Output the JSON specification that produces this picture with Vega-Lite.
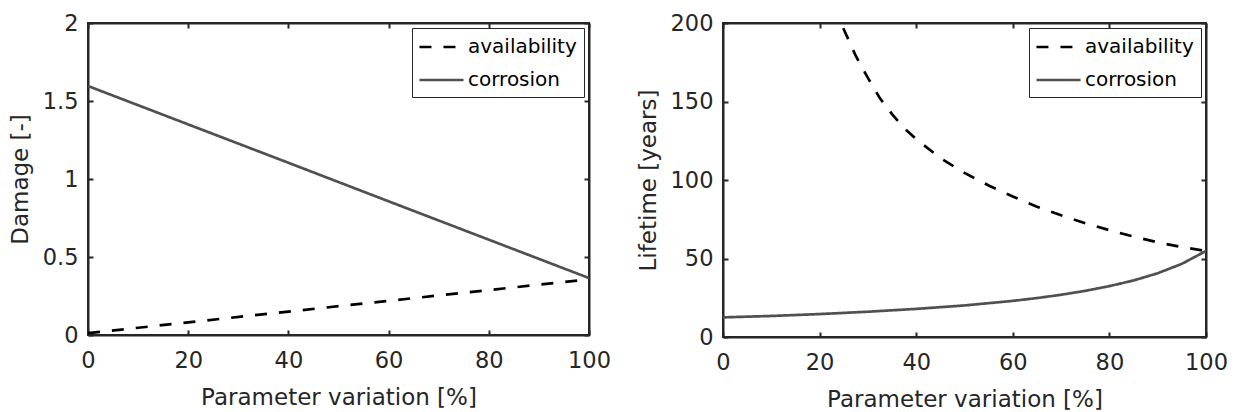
{
  "$schema": "https://vega.github.io/schema/vega-lite/v6.json",
  "background": "white",
  "padding": {"left": 8, "top": 11, "right": 5, "bottom": 5},
  "spacing": 24,
  "datasets": {
    "damage": [
      {"x": 0, "value": 0.012, "series": "availability"},
      {"x": 20, "value": 0.081, "series": "availability"},
      {"x": 40, "value": 0.150, "series": "availability"},
      {"x": 60, "value": 0.219, "series": "availability"},
      {"x": 80, "value": 0.288, "series": "availability"},
      {"x": 100, "value": 0.357, "series": "availability"},
      {"x": 0, "value": 1.596, "series": "corrosion"},
      {"x": 20, "value": 1.350, "series": "corrosion"},
      {"x": 40, "value": 1.104, "series": "corrosion"},
      {"x": 60, "value": 0.857, "series": "corrosion"},
      {"x": 80, "value": 0.611, "series": "corrosion"},
      {"x": 100, "value": 0.365, "series": "corrosion"}
    ],
    "lifetime": [
      {"x": 20, "value": 240, "series": "availability"},
      {"x": 22.5, "value": 218, "series": "availability"},
      {"x": 25, "value": 196, "series": "availability"},
      {"x": 27.5, "value": 179, "series": "availability"},
      {"x": 30, "value": 165, "series": "availability"},
      {"x": 32.5, "value": 152, "series": "availability"},
      {"x": 35, "value": 142, "series": "availability"},
      {"x": 37.5, "value": 133, "series": "availability"},
      {"x": 40, "value": 126, "series": "availability"},
      {"x": 45, "value": 114, "series": "availability"},
      {"x": 50, "value": 104.5, "series": "availability"},
      {"x": 55, "value": 96.5, "series": "availability"},
      {"x": 60, "value": 89.5, "series": "availability"},
      {"x": 65, "value": 83, "series": "availability"},
      {"x": 70, "value": 77.5, "series": "availability"},
      {"x": 75, "value": 72.5, "series": "availability"},
      {"x": 80, "value": 68, "series": "availability"},
      {"x": 85, "value": 64, "series": "availability"},
      {"x": 90, "value": 60.3, "series": "availability"},
      {"x": 95, "value": 57.3, "series": "availability"},
      {"x": 100, "value": 54.8, "series": "availability"},
      {"x": 0, "value": 12.5, "series": "corrosion"},
      {"x": 10, "value": 13.4, "series": "corrosion"},
      {"x": 20, "value": 14.6, "series": "corrosion"},
      {"x": 30, "value": 16.1, "series": "corrosion"},
      {"x": 40, "value": 17.9, "series": "corrosion"},
      {"x": 50, "value": 20.1, "series": "corrosion"},
      {"x": 60, "value": 23.0, "series": "corrosion"},
      {"x": 65, "value": 24.8, "series": "corrosion"},
      {"x": 70, "value": 26.9, "series": "corrosion"},
      {"x": 75, "value": 29.4, "series": "corrosion"},
      {"x": 80, "value": 32.4, "series": "corrosion"},
      {"x": 85, "value": 36.0, "series": "corrosion"},
      {"x": 90, "value": 40.6, "series": "corrosion"},
      {"x": 95, "value": 46.6, "series": "corrosion"},
      {"x": 100, "value": 54.8, "series": "corrosion"}
    ]
  },
  "hconcat": [
    {
      "width": 501,
      "height": 312,
      "data": {"name": "damage"},
      "layer": [
        {
          "mark": {"type": "line", "strokeWidth": 2.7, "clip": true},
          "encoding": {
            "x": {"field": "x", "type": "quantitative", "scale": {"domain": [0, 100], "nice": false},
                  "axis": {"values": [0, 20, 40, 60, 80, 100], "title": "Parameter variation [%]", "labelPadding": 19, "titlePadding": 15}},
            "y": {"field": "value", "type": "quantitative", "scale": {"domain": [0, 2], "nice": false},
                  "axis": {"values": [0, 0.5, 1, 1.5, 2], "format": "~g", "title": "Damage [-]", "labelPadding": 15, "titlePadding": 10}},
            "color": {"field": "series", "type": "nominal",
                      "scale": {"domain": ["availability", "corrosion"], "range": ["#000000", "#505050"]},
                      "legend": {"title": null}},
            "strokeDash": {"field": "series", "type": "nominal",
                           "scale": {"domain": ["availability", "corrosion"], "range": [[12, 12], [1, 0]]},
                           "legend": {"title": null}}
          }
        },
        {
          "mark": {"type": "point", "opacity": 0, "clip": true},
          "encoding": {
            "x": {"field": "x", "type": "quantitative", "scale": {"domain": [0, 100], "nice": false},
                  "axis": {"orient": "top", "values": [0, 20, 40, 60, 80, 100], "labels": false, "title": null, "minExtent": 0, "maxExtent": 0}},
            "y": {"field": "value", "type": "quantitative", "scale": {"domain": [0, 2], "nice": false},
                  "axis": {"orient": "right", "values": [0, 0.5, 1, 1.5, 2], "labels": false, "title": null, "minExtent": 0, "maxExtent": 0}}
          }
        }
      ],
      "resolve": {"axis": {"x": "independent", "y": "independent"}}
    },
    {
      "width": 483,
      "height": 314,
      "data": {"name": "lifetime"},
      "layer": [
        {
          "mark": {"type": "line", "strokeWidth": 2.7, "clip": true},
          "encoding": {
            "x": {"field": "x", "type": "quantitative", "scale": {"domain": [0, 100], "nice": false},
                  "axis": {"values": [0, 20, 40, 60, 80, 100], "title": "Parameter variation [%]", "labelPadding": 19, "titlePadding": 15}},
            "y": {"field": "value", "type": "quantitative", "scale": {"domain": [0, 200], "nice": false},
                  "axis": {"values": [0, 50, 100, 150, 200], "title": "Lifetime [years]", "labelPadding": 15, "titlePadding": 10}},
            "color": {"field": "series", "type": "nominal",
                      "scale": {"domain": ["availability", "corrosion"], "range": ["#000000", "#505050"]},
                      "legend": {"title": null}},
            "strokeDash": {"field": "series", "type": "nominal",
                           "scale": {"domain": ["availability", "corrosion"], "range": [[12, 12], [1, 0]]},
                           "legend": {"title": null}}
          }
        },
        {
          "mark": {"type": "point", "opacity": 0, "clip": true},
          "encoding": {
            "x": {"field": "x", "type": "quantitative", "scale": {"domain": [0, 100], "nice": false},
                  "axis": {"orient": "top", "values": [0, 20, 40, 60, 80, 100], "labels": false, "title": null, "minExtent": 0, "maxExtent": 0}},
            "y": {"field": "value", "type": "quantitative", "scale": {"domain": [0, 200], "nice": false},
                  "axis": {"orient": "right", "values": [0, 50, 100, 150, 200], "labels": false, "title": null, "minExtent": 0, "maxExtent": 0}}
          }
        }
      ],
      "resolve": {"axis": {"x": "independent", "y": "independent"}}
    }
  ],
  "resolve": {"scale": {"color": "independent", "strokeDash": "independent"}, "legend": {"color": "independent", "strokeDash": "independent"}},
  "config": {
    "font": "DejaVu Sans",
    "view": {"stroke": "#262626", "strokeWidth": 2},
    "axis": {
      "grid": false,
      "labelFlush": false,
      "domainColor": "#262626",
      "domainWidth": 2,
      "tickColor": "#262626",
      "tickWidth": 2,
      "tickSize": -5,
      "labelFont": "DejaVu Sans",
      "labelFontSize": 22.5,
      "labelColor": "#262626",
      "titleFont": "DejaVu Sans",
      "titleFontSize": 23,
      "titleFontWeight": "normal",
      "titleColor": "#262626"
    },
    "legend": {
      "orient": "top-right",
      "offset": 5,
      "symbolType": "M-1.1,0L3.1,0",
      "symbolSize": 441,
      "symbolStrokeWidth": 2.7,
      "labelFont": "DejaVu Sans",
      "labelFontSize": 20,
      "labelColor": "#000000",
      "labelOffset": 25,
      "strokeColor": "#262626",
      "fillColor": "white",
      "padding": 7,
      "rowPadding": 11
    }
  }
}
